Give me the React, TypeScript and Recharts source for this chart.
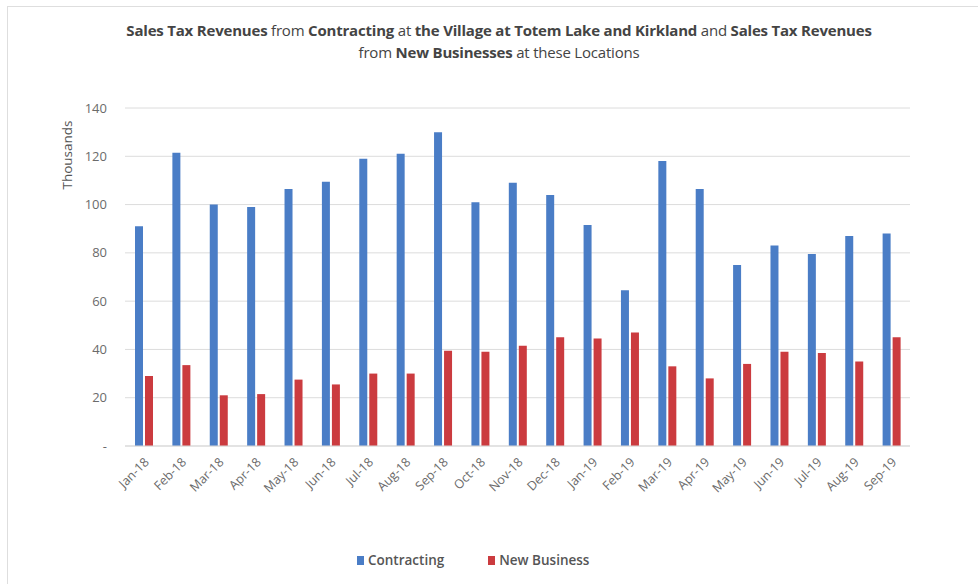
import React from 'react';
import { BarChart, Bar, XAxis, YAxis, CartesianGrid } from 'recharts';

const months = [
  'Jan-18', 'Feb-18', 'Mar-18', 'Apr-18', 'May-18', 'Jun-18', 'Jul-18', 'Aug-18', 'Sep-18', 'Oct-18', 'Nov-18',
  'Dec-18', 'Jan-19', 'Feb-19', 'Mar-19', 'Apr-19', 'May-19', 'Jun-19', 'Jul-19', 'Aug-19', 'Sep-19',
];
const contracting = [91, 121.5, 100, 99, 106.5, 109.5, 119, 121, 130, 101, 109, 104, 91.5, 64.5, 118, 106.5, 75, 83, 79.5, 87, 88];
const newBusiness = [29, 33.5, 21, 21.5, 27.5, 25.5, 30, 30, 39.5, 39, 41.5, 45, 44.5, 47, 33, 28, 34, 39, 38.5, 35, 45];
const yTicks = [0, 20, 40, 60, 80, 100, 120, 140];

const data = months.map((m, i) => ({ month: m, contracting: contracting[i], newBusiness: newBusiness[i] }));

const FONT = '"Open Sans", "Liberation Sans", sans-serif';
const BLUE = '#4a7dc6';
const RED = '#cb3b3f';

const XTick = (props: any) => {
  const { x, y, payload } = props;
  return (
    <text x={x + 6} y={y + 9} transform={`rotate(-45, ${x + 6}, ${y + 9})`} textAnchor="end" fontSize={12.5} fill="#6b6b6b" fontFamily={FONT}>
      {payload.value}
    </text>
  );
};

export default function App() {
  return (
    <div style={{ position: 'absolute', left: 0, top: 0, width: 978, height: 584, background: '#fff', overflow: 'hidden' }}>
      <div style={{ position: 'absolute', left: 7, top: 6, width: 990, height: 600, border: '1px solid #dedede' }} />
      <div style={{ position: 'absolute', top: 19, left: 0, width: 998, textAlign: 'center', fontFamily: FONT, fontSize: 15, color: '#444', lineHeight: '22px', letterSpacing: -0.2 }}>
        <div>
          <b>Sales Tax Revenues</b> from <b>Contracting</b> at <b>the Village at Totem Lake and Kirkland</b> and <b>Sales Tax Revenues</b>
        </div>
        <div>
          from <b>New Businesses</b> at these Locations
        </div>
      </div>
      <BarChart width={978} height={584} data={data} margin={{ top: 108, right: 68, left: 60, bottom: 78 }} barGap={2} barSize={8}>
        <CartesianGrid vertical={false} stroke="#dcdcdc" />
        <XAxis dataKey="month" interval={0} tick={<XTick />} tickLine={false} axisLine={{ stroke: '#d9d9d9' }} height={60} />
        <YAxis
          width={65}
          domain={[0, 140]}
          ticks={yTicks}
          tickFormatter={(v: number) => (v === 0 ? '-' : String(v))}
          tick={{ fontSize: 13, fill: '#6b6b6b', fontFamily: FONT }}
          tickLine={false}
          axisLine={false}
          tickMargin={12}
          label={() => (
            <text x={72} y={155} transform="rotate(-90, 72, 155)" textAnchor="middle" fontSize={13.5} fill="#555" fontFamily={FONT}>
              Thousands
            </text>
          )}
        />
        <Bar dataKey="contracting" name="Contracting" fill={BLUE} isAnimationActive={false} />
        <Bar dataKey="newBusiness" name="New Business" fill={RED} isAnimationActive={false} />
      </BarChart>
      <div style={{ position: 'absolute', top: 551, left: 357, display: 'flex', gap: 44, fontFamily: FONT, fontSize: 13.5, color: '#555', fontWeight: 600 }}>
        <span><span style={{ display: 'inline-block', width: 7, height: 9, background: BLUE, marginRight: 4 }} />Contracting</span>
        <span><span style={{ display: 'inline-block', width: 7, height: 9, background: RED, marginRight: 4 }} />New Business</span>
      </div>
    </div>
  );
}
